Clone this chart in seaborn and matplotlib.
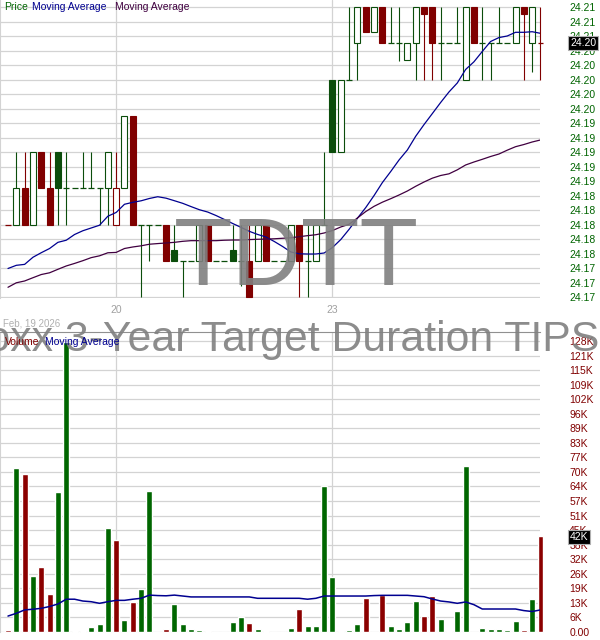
import numpy as np
import pandas as pd
import seaborn as sns
import matplotlib
matplotlib.use("Agg")
import matplotlib.pyplot as plt

# 15 minute bars: end of Feb 19, Feb 20, Feb 23 2026
opens = [24.180, 24.180, 24.185, 24.180, 24.190, 24.185, 24.190, 24.185, 24.185, 24.185,
         24.185, 24.185, 24.185, 24.180, 24.185, 24.195, 24.180, 24.180, 24.180, 24.180,
         24.1765, 24.175, 24.175, 24.175, 24.180, 24.175, 24.175, 24.1765, 24.175, 24.175,
         24.175, 24.180, 24.175, 24.175, 24.175, 24.180, 24.175, 24.175, 24.180, 24.200,
         24.190, 24.200, 24.205, 24.210, 24.2065, 24.210, 24.205, 24.205, 24.2027, 24.205,
         24.210, 24.210, 24.205, 24.205, 24.205, 24.200, 24.210, 24.205, 24.205, 24.205,
         24.205, 24.205, 24.210, 24.205, 24.205]
highs = [24.180, 24.190, 24.190, 24.190, 24.190, 24.190, 24.190, 24.190, 24.185, 24.190,
         24.190, 24.185, 24.190, 24.190, 24.195, 24.195, 24.180, 24.180, 24.180, 24.180,
         24.180, 24.175, 24.175, 24.180, 24.180, 24.175, 24.175, 24.180, 24.180, 24.180,
         24.180, 24.180, 24.175, 24.175, 24.180, 24.180, 24.180, 24.180, 24.190, 24.200,
         24.200, 24.210, 24.210, 24.210, 24.210, 24.210, 24.210, 24.210, 24.205, 24.210,
         24.210, 24.210, 24.210, 24.205, 24.210, 24.210, 24.210, 24.210, 24.205, 24.210,
         24.205, 24.210, 24.210, 24.210, 24.210]
lows = [24.180, 24.180, 24.180, 24.180, 24.185, 24.180, 24.180, 24.180, 24.185, 24.185,
        24.185, 24.180, 24.180, 24.180, 24.185, 24.180, 24.170, 24.175, 24.180, 24.175,
        24.175, 24.170, 24.175, 24.175, 24.175, 24.175, 24.175, 24.175, 24.1715, 24.170,
        24.175, 24.175, 24.175, 24.175, 24.175, 24.170, 24.170, 24.175, 24.180, 24.190,
        24.190, 24.200, 24.200, 24.2066, 24.2065, 24.205, 24.205, 24.2025, 24.2027, 24.200,
        24.200, 24.200, 24.200, 24.205, 24.205, 24.200, 24.205, 24.200, 24.200, 24.205,
        24.205, 24.205, 24.200, 24.201, 24.200]
closes = [24.180, 24.185, 24.180, 24.190, 24.185, 24.180, 24.185, 24.185, 24.185, 24.185,
          24.185, 24.185, 24.190, 24.185, 24.195, 24.180, 24.180, 24.180, 24.180, 24.175,
          24.175, 24.175, 24.175, 24.180, 24.175, 24.175, 24.175, 24.175, 24.175, 24.170,
          24.180, 24.175, 24.175, 24.175, 24.180, 24.175, 24.175, 24.180, 24.180, 24.190,
          24.200, 24.200, 24.210, 24.2066, 24.210, 24.205, 24.205, 24.205, 24.205, 24.210,
          24.209, 24.205, 24.205, 24.205, 24.205, 24.210, 24.205, 24.205, 24.205, 24.205,
          24.205, 24.210, 24.209, 24.210, 24.205]
bar_dir = list("rgrgrrgggggggrgrgggrgggg" "rggggrgrgggrgggggggrgrgg" "ggrrggggrgggggrgr")
# volume in thousands
volume = [0.9, 72, 69.4, 24.6, 28.5, 16.7, 61.5, 127.4, 0.5, 0.5,
          2.2, 3.5, 45.7, 40.4, 5.3, 13.2, 18.9, 62, 0, 1.3,
          12.3, 3.5, 1.3, 0.9, 0.5, 0, 0, 4.4, 6.6, 4.0,
          1.3, 0.5, 0, 0, 1.8, 10, 2.6, 2.6, 64, 24.2,
          0.4, 0.9, 3.5, 15, 0, 16.3, 2.6, 1.3, 4.4, 13.6,
          7, 15.8, 5.7, 0.4, 9.2, 73, 0, 1.8, 1.3, 1.3,
          0.9, 4.8, 0.9, 14.5, 42]
ma_fast = [24.17393, 24.17437, 24.17450, 24.17548, 24.17611, 24.17669, 24.17754, 24.17783, 24.17862, 24.17914,
           24.17952, 24.17990, 24.18114, 24.18166, 24.18279, 24.18306, 24.18327, 24.18359, 24.18383, 24.18363,
           24.18328, 24.18292, 24.18247, 24.18204, 24.18172, 24.18124, 24.18070, 24.18014, 24.17961, 24.17906,
           24.17863, 24.17828, 24.17766, 24.17697, 24.17621, 24.17596, 24.17593, 24.17593, 24.17607, 24.17683,
           24.17793, 24.17934, 24.18087, 24.18234, 24.18400, 24.18579, 24.18731, 24.18890, 24.19028, 24.19217,
           24.19378, 24.19530, 24.19683, 24.19828, 24.19952, 24.20138, 24.20244, 24.20386, 24.20524, 24.20578,
           24.20600, 24.20651, 24.20651, 24.20659, 24.20637]
ma_slow = [24.17134, 24.17196, 24.17221, 24.17266, 24.17310, 24.17334, 24.17382, 24.17428, 24.17463, 24.17501,
           24.17543, 24.17568, 24.17610, 24.17615, 24.17669, 24.17690, 24.17706, 24.17728, 24.17737, 24.17745,
           24.17754, 24.17768, 24.17777, 24.17777, 24.17777, 24.17777, 24.17783, 24.17786, 24.17786, 24.17792,
           24.17796, 24.17799, 24.17803, 24.17810, 24.17817, 24.17832, 24.17846, 24.17859, 24.17883, 24.17917,
           24.17966, 24.18003, 24.18090, 24.18179, 24.18251, 24.18308, 24.18356, 24.18407, 24.18462, 24.18527,
           24.18586, 24.18639, 24.18676, 24.18699, 24.18754, 24.18821, 24.18862, 24.18899, 24.18938, 24.18972,
           24.19025, 24.19073, 24.19103, 24.19138, 24.19166]
vol_ma = [7.0, 8.2, 9.7, 10.0, 10.4, 11.2, 12.3, 14.4, 14.4, 13.6,
          13.3, 12.6, 13.3, 13.9, 13.9, 14.4, 14.8, 16.2, 16.0, 15.9,
          16.2, 15.8, 15.4, 15.4, 15.4, 15.4, 15.4, 15.4, 15.4, 15.4,
          14.8, 14.8, 14.8, 14.8, 14.8, 14.8, 14.4, 14.8, 15.8, 15.8,
          15.8, 15.8, 15.8, 15.8, 16.0, 16.1, 16.1, 16.1, 16.1, 15.8,
          15.5, 14.5, 13.6, 13.2, 12.6, 13.2, 12.0, 10.1, 10.1, 10.1,
          10.1, 10.1, 9.4, 9.0, 9.7]
day_starts = [13, 39]
day_labels = ["20", "23"]
price_ticks = [24.170, 24.172, 24.174, 24.176, 24.178, 24.180, 24.182, 24.184, 24.186, 24.188,
               24.190, 24.192, 24.194, 24.196, 24.198, 24.200, 24.202, 24.204, 24.206, 24.208, 24.210]
vol_tick_labels = ["0.00", "6K", "13K", "19K", "26K", "32K", "38K", "45K", "51K", "57K", "64K",
                   "70K", "77K", "83K", "89K", "96K", "102K", "109K", "115K", "121K", "128K"]
vol_step = 6.39
last_price = "24.20"
last_volume = "42K"

sns.set_style("white")
plt.rcParams["font.family"] = ["Liberation Sans", "DejaVu Sans"]

CG = "#0b4d0b"
CR = "#800000"
VG = "#006600"
VR = "#8b0000"
GRID = "#d3d3d3"

n = len(closes)
idx = np.arange(n)

fig = plt.figure(figsize=(6, 6.4), dpi=100)
H = 640.0
ax_p = fig.add_axes([0, 1 - 298 / H, 0.9, 298 / H])
ax_v = fig.add_axes([0, 8 / H, 0.9, 300 / H])

# price panel
for i in range(n):
    col = CG if bar_dir[i] == "g" else CR
    ax_p.vlines(i, lows[i], highs[i], color=col, lw=0.8, zorder=3, clip_on=False)
    if opens[i] == closes[i]:
        ax_p.hlines(opens[i], i - 0.36, i + 0.36, color=col, lw=0.9, zorder=4, clip_on=False)
    else:
        face = col if closes[i] < opens[i] else "white"
        ax_p.bar(i, abs(closes[i] - opens[i]), bottom=min(opens[i], closes[i]), width=0.72,
                 facecolor=face, edgecolor=col, linewidth=0.8, zorder=4, clip_on=False)

sns.lineplot(x=idx, y=ma_fast, color="#000090", linewidth=0.9, ax=ax_p, zorder=5)
sns.lineplot(x=idx, y=ma_slow, color="#400040", linewidth=0.9, ax=ax_p, zorder=5)

ax_p.set_xlim(-0.96, 63.94)
ax_p.set_ylim(24.210 - 291 / 7250, 24.210 + 7 / 7250)
ax_p.yaxis.tick_right()
ax_p.set_yticks(price_ticks)
ax_p.set_yticklabels([f"{v:.2f}" for v in price_ticks])
ax_p.set_xticks(day_starts)
ax_p.set_xticklabels(day_labels)
ax_p.tick_params(axis="y", length=0, pad=21, labelsize=7.5, labelcolor="#006400")
ax_p.tick_params(axis="x", length=0, pad=5, labelsize=7.5, labelcolor="#a0a0a0")
for lab in ax_p.get_yticklabels():
    lab.set_horizontalalignment("left")
ax_p.grid(True, color=GRID, lw=0.9)
ax_p.set_axisbelow(True)
for s in ["top", "right", "bottom"]:
    ax_p.spines[s].set_visible(False)
ax_p.spines["left"].set_color(GRID)

# volume panel
vdf = pd.DataFrame({"i": idx, "vol": volume, "dir": bar_dir})
sns.barplot(data=vdf, x="i", y="vol", hue="dir", palette={"g": VG, "r": VR},
            native_scale=True, dodge=False, width=0.72, saturation=1, errorbar=None,
            legend=False, ax=ax_v, zorder=3)
for p in ax_v.patches:
    p.set_clip_on(False)
sns.lineplot(x=idx, y=vol_ma, color="#000090", linewidth=1.1, ax=ax_v, zorder=5)

ax_v.set_xlim(-0.96, 63.94)
ax_v.set_ylim(0, 300 / 2.277)
vt = [k * vol_step for k in range(len(vol_tick_labels))]
ax_v.yaxis.tick_right()
ax_v.set_yticks(vt)
ax_v.set_yticklabels(vol_tick_labels)
ax_v.set_xticks(day_starts)
ax_v.set_xticklabels([])
ax_v.set_xlabel("")
ax_v.set_ylabel("")
ax_v.tick_params(axis="y", length=0, pad=21, labelsize=7.5, labelcolor="#800000")
ax_v.tick_params(axis="x", length=0)
for lab in ax_v.get_yticklabels():
    lab.set_horizontalalignment("left")
ax_v.grid(True, color=GRID, lw=0.9)
ax_v.set_axisbelow(True)
for s in ["right", "bottom"]:
    ax_v.spines[s].set_visible(False)
ax_v.spines["left"].set_color(GRID)
ax_v.spines["top"].set_color("#909090")

# last value boxes
box = dict(boxstyle="square,pad=0.15", facecolor="black", edgecolor="#b0b0b0", linewidth=0.8)
fig.text(570 / 600, 1 - 43 / H, last_price, color="white", fontsize=7.5, ha="left", va="center", bbox=box)
fig.text(570 / 600, 1 - 537 / H, last_volume, color="white", fontsize=7.5, ha="left", va="center", bbox=box)

# legends
fig.text(4 / 600, 1 - 10 / H, "Price", color="#006400", fontsize=7.5, va="baseline")
fig.text(32 / 600, 1 - 10 / H, "Moving Average", color="#000090", fontsize=7.5, va="baseline")
fig.text(115 / 600, 1 - 10 / H, "Moving Average", color="#400040", fontsize=7.5, va="baseline")
fig.text(5 / 600, 1 - 345 / H, "Volume", color="#800000", fontsize=7.5, va="baseline", zorder=10)
fig.text(45 / 600, 1 - 345 / H, "Moving Average", color="#000090", fontsize=7.5, va="baseline", zorder=10)
fig.text(3 / 600, 1 - 326 / H, "Feb, 19 2026", color="#b0b0b0", fontsize=7, va="baseline")

# watermarks
fig.text(296 / 600, 1 - 285 / H, "TDTT", color="#808080", alpha=0.9, fontsize=69,
         ha="center", va="baseline", zorder=8)
fig.text(599 / 600, 1 - 351 / H, "FlexShares iBoxx 3-Year Target Duration TIPS", color="#808080",
         alpha=0.9, fontsize=30.8, ha="right", va="baseline", zorder=8)

fig.savefig("out.png", dpi=100)
